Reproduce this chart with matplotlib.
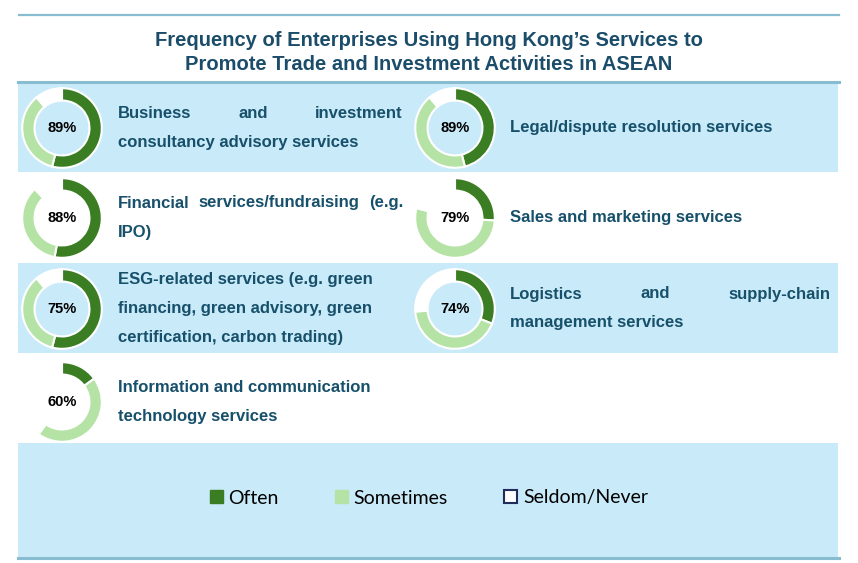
import matplotlib.pyplot as plt
from matplotlib.patches import Rectangle, Patch

W, H = 858, 563

# Data (percent of enterprises)
services = [
    "Business and investment\nconsultancy advisory services",
    "Legal/dispute resolution services",
    "Financial services/fundraising (e.g.\nIPO)",
    "Sales and marketing services",
    "ESG-related services (e.g. green\nfinancing, green advisory, green\ncertification, carbon trading)",
    "Logistics and supply-chain\nmanagement services",
    "Information and communication\ntechnology services",
]
used_pct = [89, 89, 88, 79, 75, 74, 60]
often = [54, 46, 53, 26, 54, 31, 15]
sometimes = [35, 43, 35, 53, 35, 43, 45]
legend_labels = ["Often", "Sometimes", "Seldom/Never"]

title_lines = ["Frequency of Enterprises Using Hong Kong\u2019s Services to",
               "Promote Trade and Investment Activities in ASEAN"]

# Colours
c_often = "#3a7d22"
c_some = "#b5e3a5"
c_band = "#c9eaf8"
c_line = "#88bcd0"
c_text = "#17506b"

# Layout (pixels)
row_y = [128, 218, 309, 402]
donut_x = [62, 455]
text_x0 = [118, 510]
text_x1 = [403, 830]
justify_first = [True, False, True, False, False, True, False]
line_h = 29
r = 41

fig = plt.figure(figsize=(W / 100, H / 100), dpi=100)
ax = fig.add_axes([0, 0, 1, 1])
ax.set_xlim(0, W)
ax.set_ylim(H, 0)
ax.axis("off")
renderer = fig.canvas.get_renderer()

# background bands and rules
for y0, y1 in [(83, 172), (263, 353), (443, 557)]:
    ax.add_patch(Rectangle((18, y0), 820, y1 - y0, color=c_band, lw=0, zorder=0))
ax.plot([19, 839], [15, 15], color=c_line, lw=1.6)
ax.plot([18, 839], [82, 82], color=c_line, lw=2.2)
ax.plot([18, 839], [558, 558], color=c_line, lw=2.2)

for k, tl in enumerate(title_lines):
    ax.text(429, 38 + k * 24, tl, ha="center", va="center_baseline", fontsize=14.5,
            fontweight="bold", color="#1b4d6a", family="Liberation Sans")

txt_kw = dict(fontsize=12, fontweight="bold", color=c_text, family="Liberation Sans",
              va="baseline", ha="left")
base_off = 6  # baseline below the line centre


def justify(words, x0, x1, y):
    texts = [ax.text(0, y, w, **txt_kw) for w in words]
    widths = [t.get_window_extent(renderer).width for t in texts]
    gap = (x1 - x0 - sum(widths)) / (len(words) - 1)
    x = x0
    for t, w in zip(texts, widths):
        t.set_x(x)
        x += w + gap


for i, name in enumerate(services):
    col, row = i % 2, i // 2
    cx, cy = donut_x[col], row_y[row]

    dax = fig.add_axes([(cx - r) / W, 1 - (cy + r) / H, 2 * r / W, 2 * r / H])
    vals = [often[i], sometimes[i], 100 - often[i] - sometimes[i]]
    dax.pie(vals, colors=[c_often, c_some, "white"], startangle=90, counterclock=False,
            wedgeprops=dict(width=0.31, edgecolor="white", linewidth=1.5))
    dax.set_xlim(-1.03, 1.03)
    dax.set_ylim(-1.03, 1.03)
    dax.text(0, 0, f"{used_pct[i]}%", ha="center", va="center", fontsize=10.5,
             fontweight="bold", color="black", family="Liberation Sans")

    lines = name.split("\n")
    ty = cy - 2 - (len(lines) - 1) * line_h / 2 + base_off
    for k, ln in enumerate(lines):
        y = ty + k * line_h
        if k == 0 and justify_first[i] and len(lines) > 1:
            justify(ln.split(" "), text_x0[col], text_x1[col], y)
        else:
            ax.text(text_x0[col], y, ln, **txt_kw)

handles = [Patch(facecolor=c_often, edgecolor=c_often),
           Patch(facecolor=c_some, edgecolor=c_some),
           Patch(facecolor="white", edgecolor="#1f2d5c", linewidth=1.5)]
fig.legend(handles, legend_labels, ncol=3, loc="center", bbox_to_anchor=(0.5, 1 - 498 / H),
           frameon=False, prop=dict(family="Lato", size=14), handlelength=0.65,
           handleheight=0.65, handletextpad=0.3, columnspacing=2.9)

fig.savefig("out.png", dpi=100)
